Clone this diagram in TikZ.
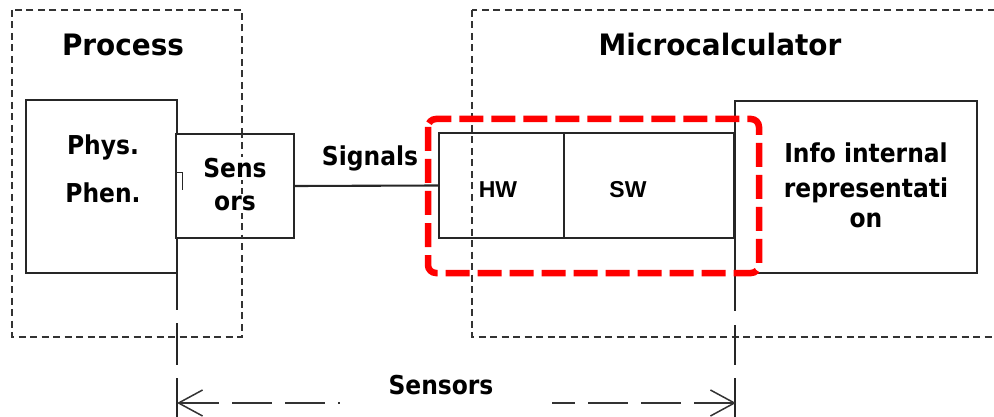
\documentclass[tikz,border=0pt]{standalone}
\usepackage{fontspec}
\setmainfont{DejaVu Sans}[FakeStretch=0.9]
\newfontfamily\titlefont{DejaVu Sans}[FakeStretch=0.945]
\newfontfamily\hwfont{Liberation Sans}
\usetikzlibrary{arrows.meta}
\begin{document}
\begin{tikzpicture}[x=1pt,y=-1pt,
  solidbox/.style={draw=black!85, line width=1.7pt, inner sep=0pt, outer sep=0pt},
  groupbox/.style={draw=black!80, line width=1.4pt, dash pattern=on 7pt off 4.5pt},
  hilite/.style={draw=red, line width=6.5pt, dash pattern=on 24pt off 8pt, rounded corners=8pt},
  lbl/.style={font=\bfseries\fontsize{26}{32}\selectfont, inner sep=0pt, anchor=base},
  titlelbl/.style={font=\titlefont\bfseries\fontsize{29.5}{34}\selectfont, inner sep=0pt, anchor=base},
  hwlbl/.style={font=\hwfont\bfseries\fontsize{23}{26}\selectfont, inner sep=0pt, anchor=base},
  ext/.style={draw=black!85, line width=1.5pt},
  dimline/.style={draw=black!80, line width=1.5pt, dash pattern=on 40pt off 13pt, {Straight Barb[length=24pt,width=26pt]}-}
]
\useasboundingbox (0,0) rectangle (994,417);
\clip (0,0) rectangle (994,417);
% group boxes
\draw[groupbox] (12,10) rectangle (242,337);
\draw[groupbox] (472,10) rectangle (1010,337);
% boxes
\node[solidbox, minimum width=151pt, minimum height=173pt] (phys) at (101.5,186.5) {};
\node[solidbox, line width=2.5pt, fill=white, minimum width=118pt, minimum height=104pt] (sensbox) at (235,186) {};
\node[solidbox, line width=2.1pt, minimum width=125pt, minimum height=105pt] (hw) at (501.5,185.5) {};
\node[solidbox, line width=2.1pt, minimum width=170pt, minimum height=105pt] (sw) at (649,185.5) {};
\node[solidbox, minimum width=242pt, minimum height=172pt] (info) at (856,187) {};
% dashed group line visible over the sensors box
\draw[groupbox, dash phase=3pt] (242,134) -- (242,238);
% extension lines
\coordinate (extL) at (177,417);
\coordinate (extR) at (735,417);
\draw[ext, dash pattern=on 37pt off 13pt on 42pt off 13pt on 80pt off 0pt] (phys.south east) -- (extL);
\draw[ext, dash pattern=on 38pt off 14pt on 40pt off 13pt on 80pt off 0pt] (info.south west) -- (extR);
% small tick
\draw[black!85, line width=1pt] (176,173) -- (182,173) -- (182,190);
% signal connector
\draw[black!85, line width=2.1pt] (sensbox.east) -- (hw.west);
% highlight
\draw[hilite] (428,119) rectangle (759,273);
% texts
\node[titlelbl] (procT) at (123,56) {Process};
\node[titlelbl] (microT) at (720,56) {Microcalculator};
\node[lbl] (physT) at (103,155) {Phys.};
\node[lbl] (phenT) at (103,203) {Phen.};
\node[lbl, fill=white, inner sep=2pt] (sensT1) at (235,178) {Sens};
\node[lbl, fill=white, inner sep=2pt] (sensT2) at (235,211) {ors};
\node[lbl] (sigT) at (370,166) {Signals};
\node[hwlbl] (hwT) at (498,197) {HW};
\node[hwlbl] (swT) at (628,197) {SW};
\node[lbl] (infoT1) at (866,163) {Info internal};
\node[lbl] (infoT2) at (866,197) {representati};
\node[lbl] (infoT3) at (866,228) {on};
% dimension
\node[lbl] (dimT) at (441,394) {Sensors};
\coordinate (dimA) at (177,403);
\coordinate (dimAe) at (340,403);
\coordinate (dimB) at (736,403);
\coordinate (dimBe) at (552,403);
\draw[dimline] (dimA) -- (dimAe);
\draw[dimline] (dimB) -- (dimBe);
\end{tikzpicture}
\end{document}
